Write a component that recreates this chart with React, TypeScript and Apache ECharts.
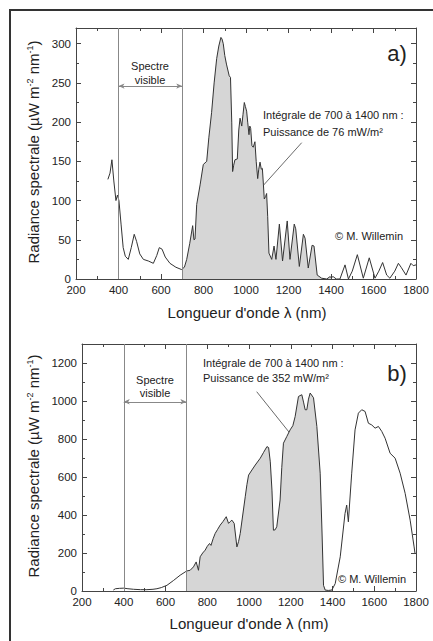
import React, { useEffect, useRef } from "react";
import * as echarts from "echarts";

// ---- Data: panel a) (wavelength nm, spectral radiance µW m^-2 nm^-1)
const A_NM = [350, 360, 369, 378, 388, 395, 402, 412, 422, 432, 446, 460, 474, 485, 500, 517, 540, 564, 580, 592, 605, 620, 642, 670, 697, 700, 710, 721, 735, 749, 755, 760, 768, 784, 799, 815, 825, 838, 850, 862, 872, 882, 887, 893, 900, 908, 921, 927, 933, 937, 942, 948, 959, 966, 972, 980, 986, 992, 997, 1003, 1008, 1014, 1018, 1022, 1028, 1034, 1042, 1048, 1055, 1060, 1066, 1072, 1077, 1082, 1086, 1092, 1097, 1102, 1108, 1121, 1132, 1141, 1157, 1172, 1194, 1207, 1227, 1234, 1251, 1270, 1278, 1293, 1311, 1320, 1335, 1356, 1380, 1395, 1400, 1410, 1425, 1442, 1466, 1482, 1500, 1524, 1552, 1580, 1607, 1625, 1643, 1662, 1677, 1700, 1717, 1730, 1753, 1776, 1787, 1800];
const A_VAL = [127, 135, 152, 125, 100, 107, 100, 70, 40, 29, 25, 40, 57, 48, 32, 25, 23, 20, 30, 40, 38, 28, 20, 15, 12, 13, 15, 25, 45, 68, 50, 51, 95, 120, 146, 150, 180, 212, 250, 281, 297, 308, 306, 300, 285, 274, 259, 257, 200, 137, 145, 152, 153, 190, 205, 195, 210, 225, 220, 214, 200, 184, 195, 192, 170, 168, 175, 150, 128, 140, 149, 140, 141, 120, 102, 105, 109, 80, 33, 25, 42, 25, 70, 23, 74, 25, 70, 64, 16, 57, 52, 14, 43, 42, 5, 1, 0, 3, 2, 3, 0, 0, 18, 0, 10, 31, 1, 27, 1, 10, 21, 5, 1, 10, 20, 15, 5, 20, 17, 18];

// ---- Data: panel b)
const B_NM = [350, 360, 380, 400, 420, 447, 480, 511, 540, 559, 580, 607, 639, 670, 694, 700, 718, 734, 747, 758, 766, 778, 790, 800, 811, 818, 828, 838, 850, 862, 875, 891, 902, 910, 918, 929, 942, 950, 958, 970, 982, 990, 998, 1014, 1030, 1054, 1070, 1086, 1094, 1102, 1110, 1117, 1125, 1133, 1149, 1157, 1165, 1181, 1197, 1210, 1221, 1237, 1253, 1262, 1269, 1277, 1285, 1293, 1309, 1325, 1341, 1350, 1357, 1365, 1380, 1397, 1413, 1437, 1460, 1468, 1476, 1492, 1508, 1524, 1540, 1556, 1572, 1588, 1604, 1620, 1636, 1652, 1676, 1700, 1724, 1748, 1772, 1791, 1795];
const B_VAL = [5, 12, 14, 15, 12, 9, 7, 7, 9, 12, 18, 30, 56, 83, 100, 105, 109, 127, 153, 109, 180, 200, 215, 235, 250, 240, 275, 303, 325, 347, 365, 391, 356, 365, 373, 356, 232, 260, 303, 400, 496, 560, 610, 637, 663, 699, 730, 760, 755, 680, 531, 320, 322, 338, 479, 650, 778, 813, 848, 870, 918, 1024, 1033, 990, 954, 954, 1010, 1042, 1017, 866, 620, 300, 30, 5, 3, 5, 39, 180, 408, 452, 364, 620, 848, 936, 954, 945, 883, 874, 857, 866, 840, 804, 725, 699, 620, 514, 373, 232, 200];

const X_TICKS = { min: 200, max: 1800, interval: 200 };
const A_Y = { min: 0, max: 320, interval: 50 };
const B_Y = { min: 0, max: 1300, interval: 200 };
const VISIBLE = [400, 700];
const INTEGRAL = [700, 1400];

const FONT = "'Liberation Sans', Arial, Helvetica, sans-serif";
const AXIS_COLOR = "#444";
const TEXT_COLOR = "#222";

function pairs(xs: number[], ys: number[]) {
  return xs.map((x, i) => [x, ys[i]]);
}
function inRange(d: number[][], lo: number, hi: number) {
  return d.filter((p) => p[0] >= lo && p[0] <= hi);
}

const plain = (v: number) => String(v);

function xAxisDef(grid: number, position: "top" | "bottom") {
  return {
    gridIndex: grid,
    type: "value",
    position,
    min: X_TICKS.min,
    max: X_TICKS.max,
    interval: X_TICKS.interval,
    axisLine: { show: true, onZero: false, lineStyle: { color: AXIS_COLOR, width: 1 } },
    axisTick: { show: true, inside: true, length: 5, lineStyle: { color: AXIS_COLOR } },
    minorTick: { show: true, splitNumber: 2, length: 3, lineStyle: { color: AXIS_COLOR } },
    splitLine: { show: false },
    axisLabel: {
      show: position === "bottom",
      formatter: plain,
      color: TEXT_COLOR,
      fontSize: 11.5,
      fontFamily: FONT,
      margin: 5,
    },
  };
}
function yAxisDef(grid: number, position: "left" | "right", r: { min: number; max: number; interval: number }) {
  return {
    gridIndex: grid,
    type: "value",
    position,
    min: r.min,
    max: r.max,
    interval: r.interval,
    axisLine: { show: true, onZero: false, lineStyle: { color: AXIS_COLOR, width: 1 } },
    axisTick: { show: true, inside: true, length: 5, lineStyle: { color: AXIS_COLOR } },
    minorTick: { show: true, splitNumber: 2, length: 3, lineStyle: { color: AXIS_COLOR } },
    splitLine: { show: false },
    axisLabel: {
      show: position === "left",
      showMaxLabel: false,
      formatter: plain,
      color: TEXT_COLOR,
      fontSize: 11.5,
      fontFamily: FONT,
      margin: 5,
    },
  };
}

function markLines(arrowY: number) {
  return {
    silent: true,
    animation: false,
    symbol: ["none", "none"],
    label: { show: false },
    lineStyle: { color: "#888", width: 1, type: "solid" },
    data: [
      { xAxis: VISIBLE[0] },
      { xAxis: VISIBLE[1] },
      [
        { coord: [VISIBLE[0], arrowY], symbol: "arrow", symbolSize: [4, 6] },
        { coord: [VISIBLE[1], arrowY], symbol: "arrow", symbolSize: [4, 6] },
      ],
    ],
  };
}

function txt(x: number, y: number, text: string, size = 11, align = "left", extra: any = {}) {
  return {
    type: "text",
    x,
    y,
    silent: true,
    style: {
      text,
      fill: TEXT_COLOR,
      fontSize: size,
      fontFamily: FONT,
      align,
      verticalAlign: "middle",
      ...extra,
    },
  };
}

function yTitle(x: number, y: number) {
  return {
    type: "text",
    x,
    y,
    rotation: Math.PI / 2,
    silent: true,
    style: {
      text: "{m|Radiance spectrale (µW m}{s|-2}{m| nm}{s|-1}{m|)}",
      align: "center",
      verticalAlign: "middle",
      fill: TEXT_COLOR,
      fontFamily: FONT,
      rich: {
        m: { fontSize: 15, fontFamily: FONT, fill: TEXT_COLOR },
        s: { fontSize: 9, fontFamily: FONT, fill: TEXT_COLOR, verticalAlign: "top" },
      },
    },
  };
}

export default function App() {
  const ref = useRef<HTMLDivElement>(null);
  useEffect(() => {
    if (!ref.current) return;
    const chart = echarts.init(ref.current, undefined, { renderer: "svg" });
    const A = pairs(A_NM, A_VAL);
    const B = pairs(B_NM, B_VAL);
    const option: any = {
      animation: false,
      backgroundColor: "#ffffff",
      grid: [
        { left: 76, top: 28, width: 340, height: 251 },
        { left: 82, top: 344, width: 334, height: 247 },
      ],
      xAxis: [xAxisDef(0, "bottom"), xAxisDef(0, "top"), xAxisDef(1, "bottom"), xAxisDef(1, "top")],
      yAxis: [yAxisDef(0, "left", A_Y), yAxisDef(0, "right", A_Y), yAxisDef(1, "left", B_Y), yAxisDef(1, "right", B_Y)],
      series: [
        {
          type: "line",
          xAxisIndex: 0,
          yAxisIndex: 0,
          data: inRange(A, INTEGRAL[0], INTEGRAL[1]),
          showSymbol: false,
          lineStyle: { width: 0 },
          areaStyle: { color: "#d6d6d6", opacity: 1 },
          z: 2,
          silent: true,
        },
        {
          type: "line",
          xAxisIndex: 0,
          yAxisIndex: 0,
          data: A,
          showSymbol: false,
          lineStyle: { color: "#333", width: 1 },
          z: 3,
          silent: true,
          markLine: markLines(246),
        },
        {
          type: "line",
          xAxisIndex: 2,
          yAxisIndex: 2,
          data: inRange(B, INTEGRAL[0], INTEGRAL[1]),
          showSymbol: false,
          lineStyle: { width: 0 },
          areaStyle: { color: "#d6d6d6", opacity: 1 },
          z: 2,
          silent: true,
        },
        {
          type: "line",
          xAxisIndex: 2,
          yAxisIndex: 2,
          data: B,
          showSymbol: false,
          lineStyle: { color: "#333", width: 1 },
          z: 3,
          silent: true,
          markLine: markLines(996),
        },
      ],
      graphic: [
        {
          type: "rect",
          silent: true,
          shape: { x: 10, y: 10, width: 440, height: 660 },
          style: { fill: "none", stroke: "#333", lineWidth: 2 },
          z: 0,
        },
        // panel a) texts
        txt(150, 66, "Spectre", 11, "center"),
        txt(150, 80, "visible", 11, "center"),
        txt(397, 53, "a)", 22, "center"),
        txt(263, 115, "Intégrale de 700 à 1400 nm :", 11),
        txt(263, 132, "Puissance de 76 mW/m²", 11),
        txt(335, 236, "© M. Willemin", 11),
        {
          type: "line",
          silent: true,
          shape: { x1: 301.7, y1: 142.7, x2: 256.5, y2: 193 },
          style: { stroke: "#444", lineWidth: 0.8 },
        },
        txt(247, 312, "Longueur d'onde λ (nm)", 15, "center"),
        yTitle(33, 152),
        // panel b) texts
        txt(155, 380, "Spectre", 11, "center"),
        txt(155, 393, "visible", 11, "center"),
        txt(397, 373, "b)", 22, "center"),
        txt(203, 363, "Intégrale de 700 à 1400 nm :", 11),
        txt(203, 378, "Puissance de 352 mW/m²", 11),
        txt(338, 579, "© M. Willemin", 11),
        {
          type: "line",
          silent: true,
          shape: { x1: 256.7, y1: 391.7, x2: 296.7, y2: 441.7 },
          style: { stroke: "#444", lineWidth: 0.8 },
        },
        txt(249, 623, "Longueur d'onde λ (nm)", 15, "center"),
        yTitle(33, 466),
      ],
    };
    chart.setOption(option);
    return () => chart.dispose();
  }, []);
  return (
    <div
      ref={ref}
      style={{ position: "fixed", left: 0, top: 0, width: 433, height: 641, background: "#fff" }}
    />
  );
}
